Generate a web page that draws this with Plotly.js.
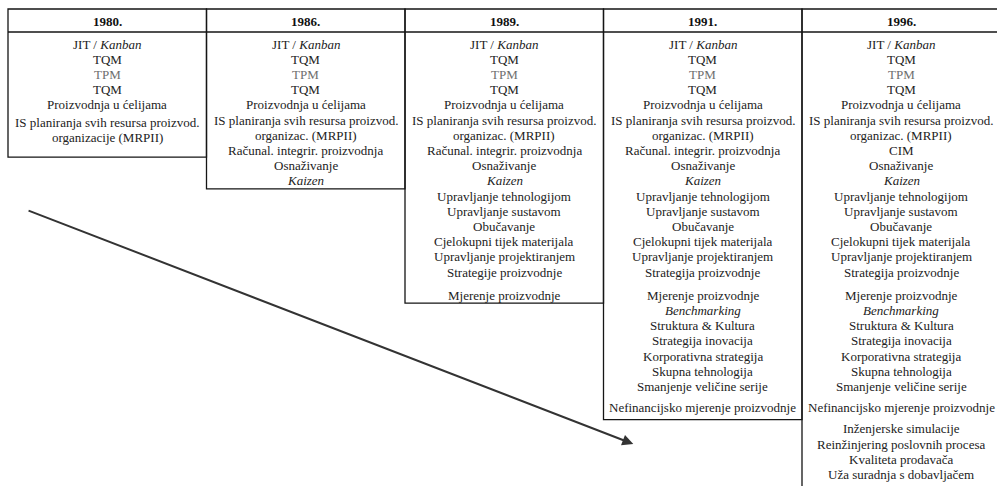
<!DOCTYPE html>
<html><head><meta charset="utf-8">
<script src="https://cdn.plot.ly/plotly-3.0.1.min.js"></script>
<style>html,body{margin:0;padding:0;background:#fff;} #chart{width:997px;height:486px;}</style>
</head><body><div id="chart"></div>
<script>
// ---- data ----
const years = ["1980.", "1986.", "1989.", "1991.", "1996."];
const col1980 = ["JIT / <i>Kanban</i>", "TQM", "TPM", "TQM", "Proizvodnja u ćelijama",
  "IS planiranja svih resursa proizvod.", "organizacije (MRPII)"];
const col1986 = ["JIT / <i>Kanban</i>", "TQM", "TPM", "TQM", "Proizvodnja u ćelijama",
  "IS planiranja svih resursa proizvod.", "organizac. (MRPII)", "Računal. integrir. proizvodnja",
  "Osnaživanje", "<i>Kaizen</i>"];
const col1989 = ["JIT / <i>Kanban</i>", "TQM", "TPM", "TQM", "Proizvodnja u ćelijama",
  "IS planiranja svih resursa proizvod.", "organizac. (MRPII)", "Računal. integrir. proizvodnja",
  "Osnaživanje", "<i>Kaizen</i>", "Upravljanje tehnologijom", "Upravljanje sustavom", "Obučavanje",
  "Cjelokupni tijek materijala", "Upravljanje projektiranjem", "Strategije proizvodnje",
  "Mjerenje proizvodnje"];
const col1991 = ["JIT / <i>Kanban</i>", "TQM", "TPM", "TQM", "Proizvodnja u ćelijama",
  "IS planiranja svih resursa proizvod.", "organizac. (MRPII)", "Računal. integrir. proizvodnja",
  "Osnaživanje", "<i>Kaizen</i>", "Upravljanje tehnologijom", "Upravljanje sustavom", "Obučavanje",
  "Cjelokupni tijek materijala", "Upravljanje projektiranjem", "Strategija proizvodnje",
  "Mjerenje proizvodnje", "<i>Benchmarking</i>", "Struktura &amp; Kultura", "Strategija inovacija",
  "Korporativna strategija", "Skupna tehnologija", "Smanjenje veličine serije",
  "Nefinancijsko mjerenje proizvodnje"];
const col1996 = ["JIT / <i>Kanban</i>", "TQM", "TPM", "TQM", "Proizvodnja u ćelijama",
  "IS planiranja svih resursa proizvod.", "organizac. (MRPII)", "CIM",
  "Osnaživanje", "<i>Kaizen</i>", "Upravljanje tehnologijom", "Upravljanje sustavom", "Obučavanje",
  "Cjelokupni tijek materijala", "Upravljanje projektiranjem", "Strategija proizvodnje",
  "Mjerenje proizvodnje", "<i>Benchmarking</i>", "Struktura &amp; Kultura", "Strategija inovacija",
  "Korporativna strategija", "Skupna tehnologija", "Smanjenje veličine serije",
  "Nefinancijsko mjerenje proizvodnje", "Inženjerske simulacije", "Reinžinjering poslovnih procesa",
  "Kvaliteta prodavača", "Uža suradnja s dobavljačem"];
const columns = [col1980, col1986, col1989, col1991, col1996];

// ---- layout constants (positions/styles) ----
const W = 997, H = 486;
const colPx = 198.5, leftPx = 8;
const topY = 9, headY = 21, headLineY = 32, firstRowY = 44, pitch = 15.2;
const gapsBefore = [{5: 2}, {}, {16: 8}, {16: 8, 23: 6}, {16: 8, 23: 6, 24: 6}];
const bottomPad = [20, 8, 8, 12, 120];
const arrowFrom = {col: 0.096, y: 210};
const arrowTo = {col: 3.15, y: 444};
const FONT = "'Liberation Serif', 'Times New Roman', serif";

const annotations = [];
const shapes = [];
columns.forEach((items, c) => {
  const xc = c + 0.5;
  annotations.push({x: xc, y: headY, xref: 'x', yref: 'y', text: '<b>' + years[c] + '</b>',
    showarrow: false, xanchor: 'center', yanchor: 'middle',
    font: {family: FONT, size: 13, color: '#111'}});
  let extra = 0, lastY = firstRowY;
  items.forEach((t, i) => {
    if (gapsBefore[c][i]) extra += gapsBefore[c][i];
    const y = firstRowY + pitch * i + extra;
    lastY = y;
    annotations.push({x: xc, y: y, xref: 'x', yref: 'y', text: t, showarrow: false,
      xanchor: 'center', yanchor: 'middle',
      font: {family: FONT, size: 13, color: t === 'TPM' ? '#6e6e6e' : '#222'}});
  });
  shapes.push({type: 'rect', xref: 'x', yref: 'y', x0: c, x1: c + 1, y0: topY, y1: lastY + bottomPad[c],
    line: {color: '#151515', width: 1.3}, fillcolor: 'rgba(0,0,0,0)'});
});
shapes.push({type: 'line', xref: 'x', yref: 'y', x0: 0, x1: columns.length, y0: headLineY, y1: headLineY,
  line: {color: '#151515', width: 1.3}});

annotations.push({x: arrowTo.col, y: arrowTo.y, ax: arrowFrom.col, ay: arrowFrom.y,
  xref: 'x', yref: 'y', axref: 'x', ayref: 'y', text: '', showarrow: true,
  arrowhead: 2, arrowsize: 1.1, arrowwidth: 2, arrowcolor: '#333', standoff: 0, startstandoff: 0});

const layout = {
  width: W, height: H, margin: {l: 0, r: 0, t: 0, b: 0},
  paper_bgcolor: '#fff', plot_bgcolor: '#fff', showlegend: false,
  xaxis: {range: [-leftPx / colPx, (W - leftPx) / colPx], visible: false, fixedrange: true},
  yaxis: {range: [H, 0], visible: false, fixedrange: true},
  annotations: annotations, shapes: shapes
};
Plotly.newPlot('chart', [{x: [], y: [], type: 'scatter', mode: 'markers', hoverinfo: 'skip'}], layout,
  {displayModeBar: false, staticPlot: true});
</script></body></html>
